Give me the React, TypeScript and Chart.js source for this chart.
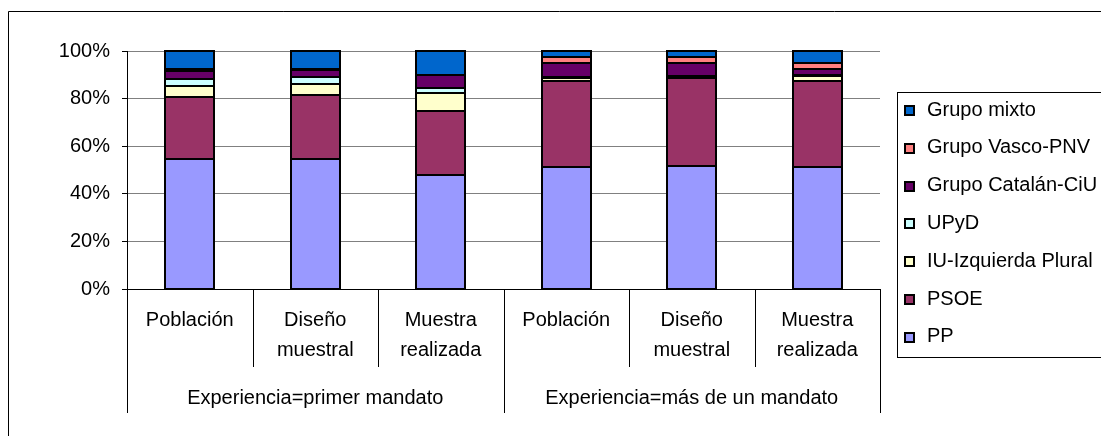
import React, { useEffect, useRef } from "react";
import { Chart, registerables } from "chart.js";

Chart.register(...registerables);

const categories = ["Población", "Diseño\nmuestral", "Muestra\nrealizada", "Población", "Diseño\nmuestral", "Muestra\nrealizada"];
const groups = ["Experiencia=primer mandato", "Experiencia=más de un mandato"];
const groupSize = 3;

const pp = [54.6, 54.5, 47.9, 51.3, 51.8, 51.1];
const psoe = [25.9, 26.9, 26.9, 36.1, 37.0, 36.3];
const iu = [4.9, 4.7, 7.4, 1.4, 0.4, 2.2];
const upyd = [2.7, 2.9, 2.4, 0.3, 0.2, 0.3];
const ciu = [3.4, 3.2, 5.2, 5.7, 5.4, 2.4];
const pnv = [0.8, 0.3, 0.3, 2.6, 2.6, 2.5];
const mixto = [7.7, 7.5, 9.9, 2.6, 2.6, 5.2];

const yTicks = [0, 20, 40, 60, 80, 100];

const seriesNames = ["PP", "PSOE", "IU-Izquierda Plural", "UPyD", "Grupo Catalán-CiU", "Grupo Vasco-PNV", "Grupo mixto"];
const seriesData = [pp, psoe, iu, upyd, ciu, pnv, mixto];
const seriesColors = ["#9999FF", "#993366", "#FFFFCC", "#CCFFFF", "#660066", "#FF8080", "#0066CC"];

const FONT = '"Liberation Sans", Arial, sans-serif';

const decorPlugin = {
  id: "decor",
  afterDatasetsDraw(chart: any) {
    const ctx = chart.ctx;
    ctx.save();
    ctx.strokeStyle = "#000";
    ctx.lineWidth = 2;
    chart.data.datasets.forEach((_: any, di: number) => {
      const meta = chart.getDatasetMeta(di);
      meta.data.forEach((bar: any) => {
        const l = Math.round(bar.x - bar.width / 2);
        const r = Math.round(bar.x + bar.width / 2);
        const t = Math.round(Math.min(bar.y, bar.base));
        const b = Math.round(Math.max(bar.y, bar.base));
        ctx.strokeRect(l, t, r - l, Math.max(b - t, 0));
      });
    });
    ctx.restore();
  },
  afterDraw(chart: any) {
    const ctx = chart.ctx;
    const x = chart.scales.x;
    const area = chart.chartArea;
    ctx.save();
    // outer border
    ctx.strokeStyle = "#000";
    ctx.lineWidth = 1;
    ctx.beginPath();
    ctx.moveTo(0.5, 1000);
    ctx.lineTo(0.5, 3.5);
    ctx.lineTo(2000, 3.5);
    ctx.stroke();

    // category axis
    const n = categories.length;
    const step = (area.right - area.left) / n;
    const axisY = area.bottom;
    for (let i = 0; i <= n; i++) {
      const px = Math.round(area.left + step * i) + 0.5;
      const outer = i % groupSize === 0;
      ctx.beginPath();
      ctx.moveTo(px, axisY);
      ctx.lineTo(px, axisY + (outer ? 124 : 78));
      ctx.stroke();
    }
    ctx.fillStyle = "#000";
    ctx.font = "20px " + FONT;
    ctx.textAlign = "center";
    ctx.textBaseline = "middle";
    categories.forEach((c, i) => {
      const cx = x.getPixelForValue(i);
      c.split("\n").forEach((line, j) => {
        ctx.fillText(line, cx, axisY + 31 + j * 30);
      });
    });
    groups.forEach((g, k) => {
      const cx = (x.getPixelForValue(k * groupSize) + x.getPixelForValue(k * groupSize + groupSize - 1)) / 2;
      ctx.fillText(g, cx, axisY + 109);
    });

    // legend
    ctx.strokeStyle = "#000";
    ctx.strokeRect(889.5, 84.5, 400, 265);
    ctx.textAlign = "left";
    const items = chart.data.datasets.slice().reverse();
    items.forEach((ds: any, i: number) => {
      const cy = 102 + i * 37.8;
      const top = Math.round(cy - 5);
      ctx.fillStyle = "#000";
      ctx.fillRect(896, top, 11, 11);
      ctx.fillStyle = ds.backgroundColor;
      ctx.fillRect(898, top + 2, 7, 7);
      ctx.fillStyle = "#000";
      ctx.fillText(ds.label, 919, cy);
    });
    ctx.restore();
  },
};

export default function App() {
  const ref = useRef<HTMLCanvasElement>(null);
  useEffect(() => {
    document.body.style.overflow = "hidden";
    const chart = new Chart(ref.current!, {
      type: "bar",
      data: {
        labels: categories,
        datasets: seriesNames.map((name, i) => ({
          label: name,
          data: seriesData[i],
          backgroundColor: seriesColors[i],
          borderWidth: 0,
          barPercentage: 0.39,
          categoryPercentage: 1,
        })),
      },
      options: {
        responsive: false,
        animation: false,
        layout: { padding: { top: 43, right: 229, bottom: 147, left: 0 } },
        plugins: { legend: { display: false }, tooltip: { enabled: false } },
        scales: {
          x: { stacked: true, display: false },
          y: {
            stacked: true,
            min: 0,
            max: 100,
            afterFit: (s: any) => {
              s.width = 119;
            },
            afterBuildTicks: (s: any) => {
              s.ticks = yTicks.map((v) => ({ value: v }));
            },
            ticks: {
              callback: (v: any) => v + "%",
              color: "#000",
              font: { family: FONT, size: 20 },
              padding: 12,
            },
            grid: {
              color: (c: any) => (c.tick && c.tick.value === 0 ? "#000" : "#808080"),
              tickColor: "#000",
              tickLength: 5,
              drawTicks: true,
            },
            border: { display: true, color: "#000" },
          },
        },
      },
      plugins: [decorPlugin],
    });
    return () => chart.destroy();
  }, []);
  return (
    <div style={{ width: 1101, height: 428 }}>
      <canvas ref={ref} width={1101} height={428} />
    </div>
  );
}
